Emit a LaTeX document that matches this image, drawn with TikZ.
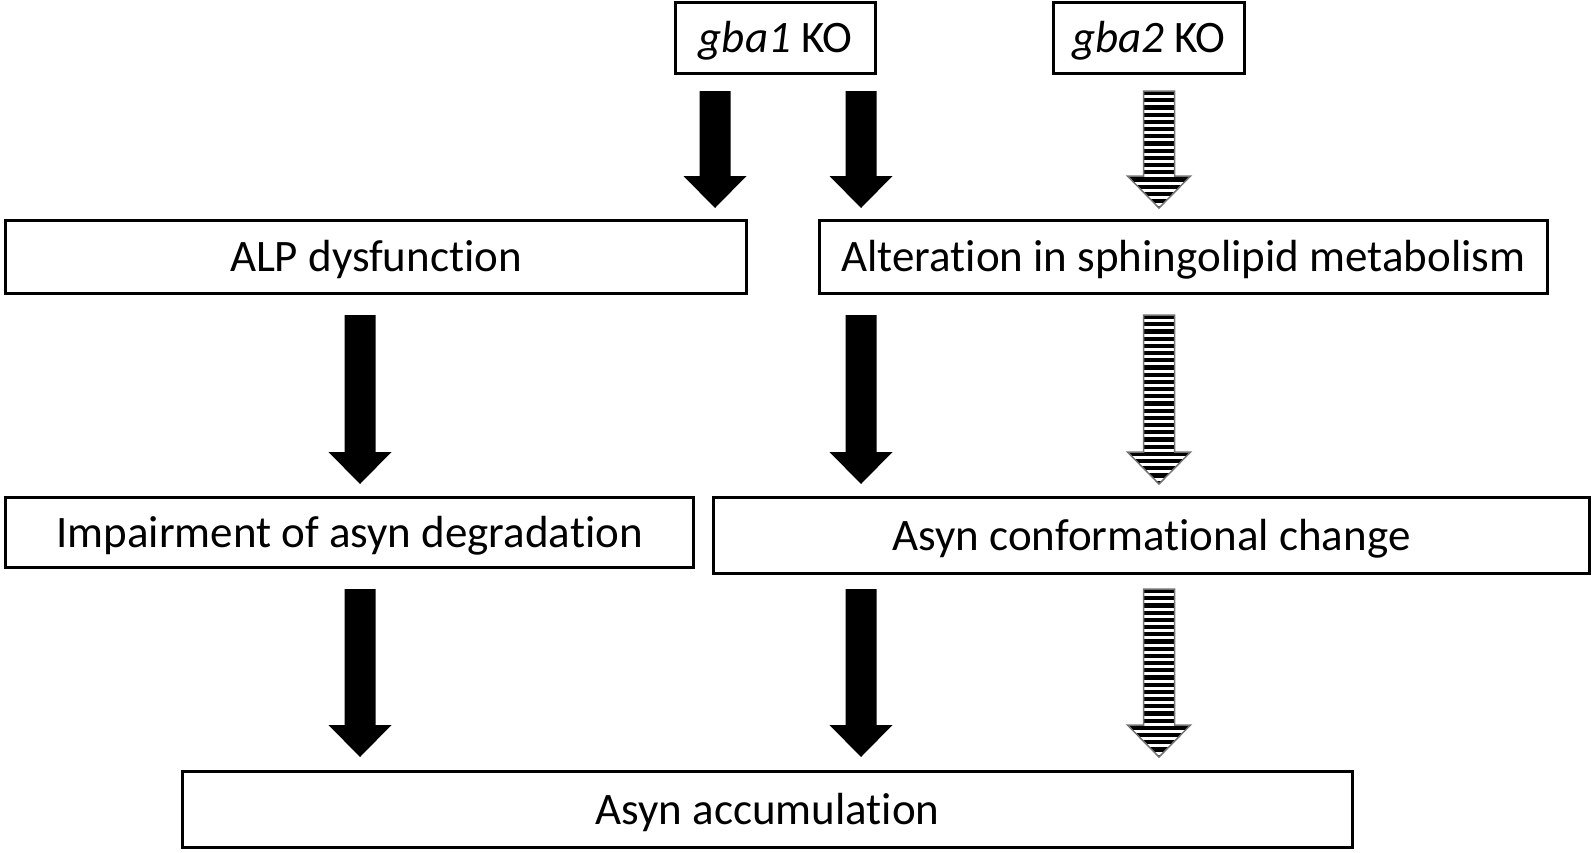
\documentclass[tikz,border=0pt]{standalone}
\usepackage{fontspec}
\setmainfont{Carlito}[Ligatures=NoCommon]
\usetikzlibrary{calc}

\tikzset{
  box/.style={draw, line width=3.5pt, rectangle, inner sep=0pt,
    text height=29pt, text depth=0pt,
    font=\fontsize{45}{52}\selectfont},
  solidarrow/.style={fill=black},
  stripeedge/.style={draw=black!55, line width=1.5pt}
}

% outline of a block arrow: top centre, tip
\newcommand{\arrowoutline}[2]{($(#1)+(-15.5,0)$) -- ($(#2)+(-15.5,-32)$) -- ($(#2)+(-31.5,-32)$) -- (#2)
    -- ($(#2)+(31.5,-32)$) -- ($(#2)+(15.5,-32)$) -- ($(#1)+(15.5,0)$) -- cycle}
\newcommand{\solidblock}[2]{\path[solidarrow] \arrowoutline{#1}{#2};}
\newcommand{\stripedblock}[2]{%
  \begin{scope}
    \clip \arrowoutline{#1}{#2};
    \foreach \k in {0,...,24}
      \fill ($(#1)+(-40,\k*7.2)$) rectangle ++(80,4.2);
  \end{scope}
  \path[stripeedge] \arrowoutline{#1}{#2};}

\begin{document}
\begin{tikzpicture}[x=1pt,y=-1pt]
\useasboundingbox (0,0) rectangle (1593,852);

% knock-outs
\node[box, minimum width=200pt, minimum height=71pt] (gbaone) at (775.5,38) {{\itshape gba1} KO};
\node[box, minimum width=191pt, minimum height=71pt] (gbatwo) at (1149,38) {{\itshape gba2} KO};

% first level
\node[box, minimum width=741pt, minimum height=73pt] (alp) at (376,257) {ALP dysfunction};
\node[box, minimum width=728pt, minimum height=73pt] (sphingo) at (1183.5,257) {Alteration in sphingolipid metabolism};

% second level
\node[box, minimum width=688pt, minimum height=70pt] (impair) at (349.5,532.5) {Impairment of asyn degradation};
\node[box, minimum width=876pt, minimum height=76pt] (conform) at (1151.5,535.5) {Asyn conformational change};

% result
\node[box, minimum width=1170pt, minimum height=76pt] (accum) at (767.5,809.5) {Asyn accumulation};

% arrow ends
\coordinate (aonetop) at (715,91);   \coordinate (aonetip) at (715,208);
\coordinate (atwotop) at (861,91);   \coordinate (atwotip) at (861,208);
\coordinate (athreetop) at (1159,91); \coordinate (athreetip) at (1159,208);
\coordinate (bonetop) at (360,315);  \coordinate (bonetip) at (360,484);
\coordinate (btwotop) at (861,315);  \coordinate (btwotip) at (861,484);
\coordinate (bthreetop) at (1159,315); \coordinate (bthreetip) at (1159,484);
\coordinate (conetop) at (360,589);  \coordinate (conetip) at (360,757);
\coordinate (ctwotop) at (861,589);  \coordinate (ctwotip) at (861,757);
\coordinate (cthreetop) at (1159,589); \coordinate (cthreetip) at (1159,757);

% arrows
\solidblock{aonetop}{aonetip}
\solidblock{atwotop}{atwotip}
\stripedblock{athreetop}{athreetip}
\solidblock{bonetop}{bonetip}
\solidblock{btwotop}{btwotip}
\stripedblock{bthreetop}{bthreetip}
\solidblock{conetop}{conetip}
\solidblock{ctwotop}{ctwotip}
\stripedblock{cthreetop}{cthreetip}
\end{tikzpicture}
\end{document}
